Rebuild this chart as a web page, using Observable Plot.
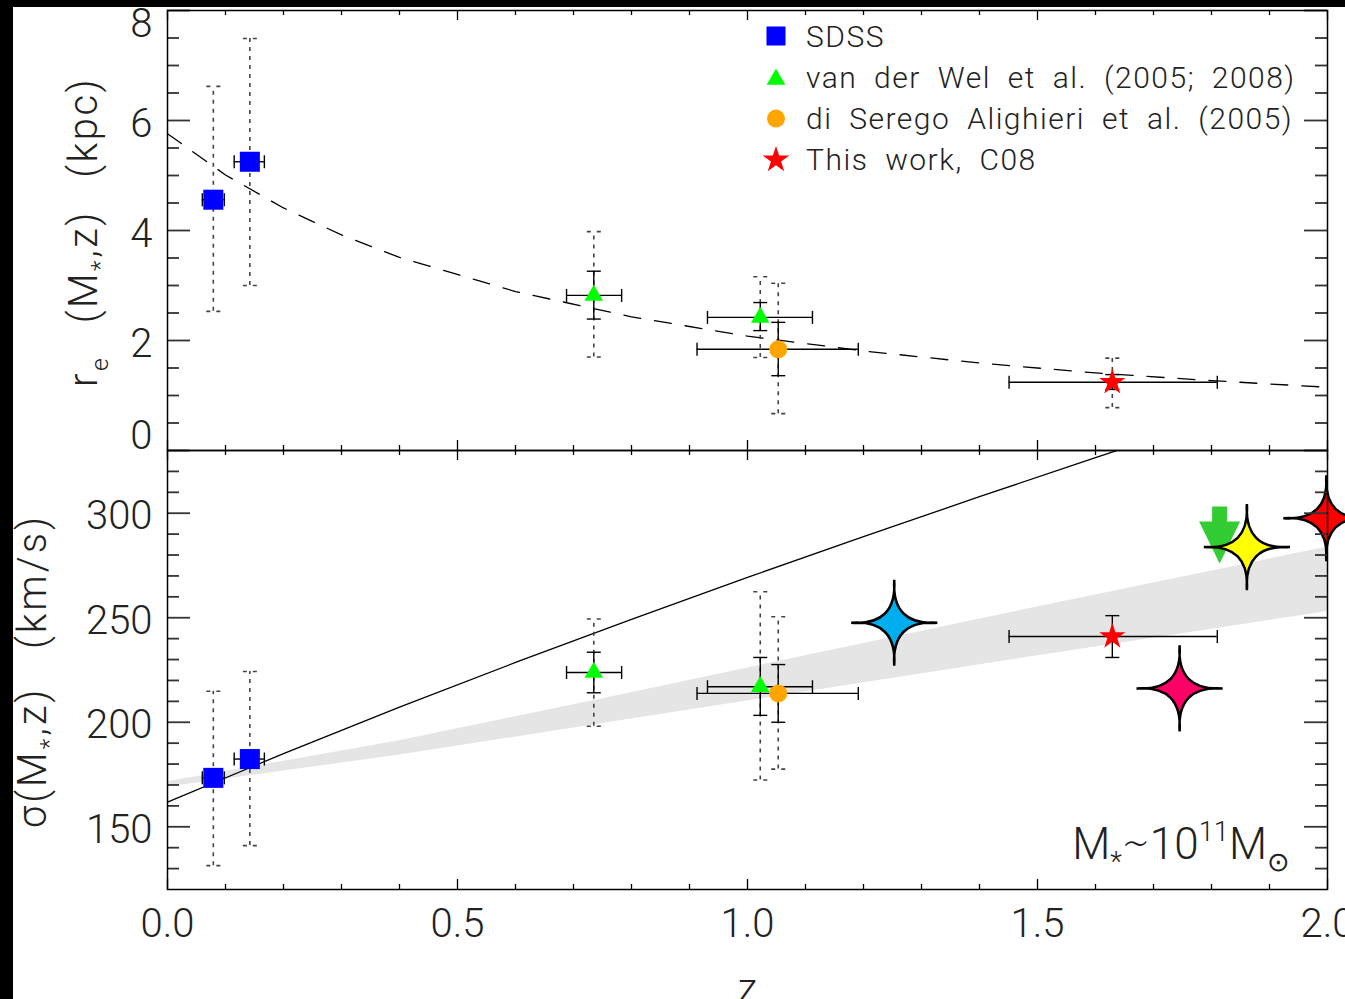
<!DOCTYPE html>
<html><head><meta charset="utf-8">
<script src="https://cdn.jsdelivr.net/npm/d3@7"></script>
<script src="https://cdn.jsdelivr.net/npm/@observablehq/plot@0.6"></script>
<style>
html,body{margin:0;padding:0;background:#000;width:1345px;height:999px;overflow:hidden;}
#paper{position:absolute;left:13px;top:7px;width:1332px;height:992px;background:#fff;}
#top,#bottom,#legend{position:absolute;left:0;}
#top{top:0px}
#bottom{top:440px}
#legend{top:0px}
svg{overflow:visible}
</style></head><body>
<div id="paper"></div>
<div id="top"></div><div id="bottom"></div><div id="legend"></div>
<script>
// ---------------- DATA ----------------
// SDSS
const sdssZ = [0.079, 0.142];
const sdssZLo = [0.060, 0.115];
const sdssZHi = [0.098, 0.167];
const sdssRe = [4.56, 5.25];
const sdssReDotLo = [2.53, 3.00];
const sdssReDotHi = [6.62, 7.49];
const sdssSig = [173.4, 182.4];
const sdssSigDotLo = [131.4, 141.0];
const sdssSigDotHi = [214.8, 224.3];
// van der Wel et al. (2005; 2008)
const vdwZ = [0.735, 1.022];
const vdwZLo = [0.688, 0.931];
const vdwZHi = [0.783, 1.112];
const vdwRe = [2.82, 2.42];
const vdwReLo = [2.39, 2.18];
const vdwReHi = [3.26, 2.69];
const vdwReDotLo = [1.70, 1.69];
const vdwReDotHi = [3.98, 3.16];
const vdwSig = [223.8, 217.0];
const vdwSigLo = [214.1, 203.3];
const vdwSigHi = [233.5, 231.0];
const vdwSigDotLo = [198.1, 172.4];
const vdwSigDotHi = [249.4, 262.4];
// di Serego Alighieri et al. (2005)
const dsaZ = [1.053];
const dsaZLo = [0.913];
const dsaZHi = [1.191];
const dsaRe = [1.84];
const dsaReLo = [1.36];
const dsaReHi = [2.33];
const dsaReDotLo = [0.67];
const dsaReDotHi = [3.04];
const dsaSig = [213.8];
const dsaSigLo = [200.0];
const dsaSigHi = [227.6];
const dsaSigDotLo = [177.6];
const dsaSigDotHi = [250.5];
// This work, C08
const c08Z = [1.629];
const c08ZLo = [1.451];
const c08ZHi = [1.810];
const c08Re = [1.24];
const c08ReLo = [1.11];
const c08ReHi = [1.38];
const c08ReDotLo = [0.78];
const c08ReDotHi = [1.68];
const c08Sig = [241.0];
const c08SigLo = [231.0];
const c08SigHi = [251.0];
// other high-z measurements (four-pointed stars) and an upper limit
const otherZ = [1.253, 1.861, 1.998, 1.745];
const otherSig = [247.6, 283.8, 297.6, 216.2];
const otherColor = ["#00AEEF", "#FFFF00", "#FF0000", "#FF0066"];
const limZ = [1.814];
const limSig = [289.6];
// size evolution model (dashed curve, top panel)
const reModelZ = [0, 0.1, 0.2, 0.3, 0.4, 0.6, 0.8, 1.0, 1.2, 1.4, 1.6, 1.8, 2.0];
const reModelV = [5.76, 5.01, 4.41, 3.92, 3.51, 2.89, 2.43, 2.08, 1.81, 1.59, 1.41, 1.27, 1.15];
// sigma prediction (solid curve, bottom panel)
const sigModelZ = [0, 0.2, 0.4, 0.6, 0.8, 1.0, 1.2, 1.4, 1.6, 1.8, 2.0];
const sigModelV = [161.8, 185.0, 207.2, 228.6, 249.2, 269.3, 288.8, 307.9, 326.6, 344.9, 362.8];
// grey band (bottom panel)
const bandZ = [0, 0.4, 0.75, 1.44, 2.0];
const bandLo = [169.0, 184.3, 199.4, 229.2, 253.0];
const bandHi = [171.5, 191.1, 211.3, 251.7, 283.8];
// ticks / labels
const xTickValues = [0, 0.5, 1.0, 1.5, 2.0];
const xTickLabels = ["0.0", "0.5", "1.0", "1.5", "2.0"];
const topYTicks = [0, 2, 4, 6, 8];
const topYLabels = ["0", "2", "4", "6", "8"];
const lowYTicks = [150, 200, 250, 300];
const lowYLabels = ["150", "200", "250", "300"];
const legendLabels = ["SDSS", "van der Wel et al. (2005; 2008)", "di Serego Alighieri et al. (2005)", "This work, C08"];
const legendColors = ["#0000FF", "#00FF00", "#FFA500", "#FF0000"];

// ---------------- LAYOUT ----------------
const W = 1345, ML = 167, MR = 18;
const FW = W - ML - MR;
const TOP_H = 460, TOP_MT = 10, TOP_MB = 10, TOP_FH = TOP_H - TOP_MT - TOP_MB;
const LOW_H = 559, LOW_MT = 10, LOW_MB = 110, LOW_FH = LOW_H - LOW_MT - LOW_MB;
const FONT = "Roboto, 'DejaVu Sans', sans-serif";

function rows(z, zlo, zhi, v, lo, hi, dlo, dhi) {
  return z.map((_, i) => ({z: z[i], zlo: zlo ? zlo[i] : null, zhi: zhi ? zhi[i] : null, v: v[i],
    lo: lo ? lo[i] : null, hi: hi ? hi[i] : null, dlo: dlo ? dlo[i] : null, dhi: dhi ? dhi[i] : null}));
}
const capH = {draw(c) { c.moveTo(-7, 0); c.lineTo(7, 0); }};
const capV = {draw(c) { c.moveTo(0, -6.5); c.lineTo(0, 6.5); }};
const star4 = {draw(c) {
  const R = 43, k = -3;
  c.moveTo(0, -R);
  c.quadraticCurveTo(k, -k, R, 0);
  c.quadraticCurveTo(k, k, 0, R);
  c.quadraticCurveTo(-k, k, -R, 0);
  c.quadraticCurveTo(-k, -k, 0, -R);
  c.closePath();
}};
const arrowDown = {draw(c) {
  c.moveTo(-7.5, -28.5); c.lineTo(7.5, -28.5); c.lineTo(7.5, -13.5); c.lineTo(20.5, -13.5);
  c.lineTo(0, 28.5); c.lineTo(-20.5, -13.5); c.lineTo(-7.5, -13.5); c.closePath();
}};

function errMarks(data) {
  const dotted = data.filter(d => d.dlo != null);
  const solid = data.filter(d => d.lo != null);
  const hor = data.filter(d => d.zlo != null);
  const dashStyle = {stroke: "#444", strokeWidth: 1.6, strokeDasharray: "4,5"};
  const capDash = {stroke: "#444", strokeWidth: 1.6, strokeDasharray: "4,6", fill: "none"};
  return [
    Plot.ruleX(dotted, {x: "z", y1: "dlo", y2: "dhi", ...dashStyle}),
    Plot.dot(dotted, {x: "z", y: "dlo", symbol: capH, ...capDash}),
    Plot.dot(dotted, {x: "z", y: "dhi", symbol: capH, ...capDash}),
    Plot.ruleX(solid, {x: "z", y1: "lo", y2: "hi", stroke: "black", strokeWidth: 1.4}),
    Plot.dot(solid, {x: "z", y: "lo", symbol: capH, stroke: "black", strokeWidth: 1.4, fill: "none"}),
    Plot.dot(solid, {x: "z", y: "hi", symbol: capH, stroke: "black", strokeWidth: 1.4, fill: "none"}),
    Plot.ruleY(hor, {y: "v", x1: "zlo", x2: "zhi", stroke: "black", strokeWidth: 1.4}),
    Plot.dot(hor, {x: "zlo", y: "v", symbol: capV, stroke: "black", strokeWidth: 1.4, fill: "none"}),
    Plot.dot(hor, {x: "zhi", y: "v", symbol: capV, stroke: "black", strokeWidth: 1.4, fill: "none"})
  ];
}

function tickMarks(yMajor, yMinor, FH) {
  const xMinor = d3.range(0, 2.0001, 0.1).map(v => +v.toFixed(2)).filter(v => !xTickValues.some(t => Math.abs(t - v) < 1e-6));
  const ts = {stroke: "black", strokeWidth: 1.3};
  const ys = {stroke: "#333", strokeWidth: 1.8};
  return [
    Plot.ruleX(xTickValues, {x: d => d, insetTop: FH - 10, ...ts}),
    Plot.ruleX(xMinor, {x: d => d, insetTop: FH - 5, ...ts}),
    Plot.ruleX(xTickValues, {x: d => d, insetBottom: FH - 10, ...ts}),
    Plot.ruleX(xMinor, {x: d => d, insetBottom: FH - 5, ...ts}),
    Plot.ruleY(yMajor, {y: d => d, insetRight: FW - 23, ...ys}),
    Plot.ruleY(yMinor, {y: d => d, insetRight: FW - 12, ...ys}),
    Plot.ruleY(yMajor, {y: d => d, insetLeft: FW - 23, ...ys}),
    Plot.ruleY(yMinor, {y: d => d, insetLeft: FW - 12, ...ys}),
    Plot.frame({stroke: "black", strokeWidth: 1.5})
  ];
}

const sdss = rows(sdssZ, sdssZLo, sdssZHi, sdssRe, null, null, sdssReDotLo, sdssReDotHi);
const vdw = rows(vdwZ, vdwZLo, vdwZHi, vdwRe, vdwReLo, vdwReHi, vdwReDotLo, vdwReDotHi);
const dsa = rows(dsaZ, dsaZLo, dsaZHi, dsaRe, dsaReLo, dsaReHi, dsaReDotLo, dsaReDotHi);
const c08 = rows(c08Z, c08ZLo, c08ZHi, c08Re, c08ReLo, c08ReHi, c08ReDotLo, c08ReDotHi);

const sdssL = rows(sdssZ, sdssZLo, sdssZHi, sdssSig, null, null, sdssSigDotLo, sdssSigDotHi);
const vdwL = rows(vdwZ, vdwZLo, vdwZHi, vdwSig, vdwSigLo, vdwSigHi, vdwSigDotLo, vdwSigDotHi);
const dsaL = rows(dsaZ, dsaZLo, dsaZHi, dsaSig, dsaSigLo, dsaSigHi, dsaSigDotLo, dsaSigDotHi);
const c08L = rows(c08Z, c08ZLo, c08ZHi, c08Sig, c08SigLo, c08SigHi, null, null);

const reModel = reModelZ.map((z, i) => ({z, v: reModelV[i]}));
const sigModel = sigModelZ.map((z, i) => ({z, v: sigModelV[i]}));
const band = bandZ.map((z, i) => ({z, lo: bandLo[i], hi: bandHi[i]}));
const others = otherZ.map((z, i) => ({z, v: otherSig[i], c: otherColor[i]}));
const limits = limZ.map((z, i) => ({z, v: limSig[i]}));

const labelStyle = {fontSize: 40, fontWeight: 300, fontFamily: FONT, fill: "#222"};

// ---------------- TOP PANEL ----------------
const topMid = topYTicks.map((t, i) => ({t, s: topYLabels[i]})).filter(d => d.t !== 0 && d.t !== 8);
const topLo = topYTicks.map((t, i) => ({t, s: topYLabels[i]})).filter(d => d.t === 0);
const topHi = topYTicks.map((t, i) => ({t, s: topYLabels[i]})).filter(d => d.t === 8);
const topChart = Plot.plot({
  width: W, height: TOP_H, marginLeft: ML, marginRight: MR, marginTop: TOP_MT, marginBottom: TOP_MB,
  style: {background: "transparent", overflow: "visible", fontFamily: FONT},
  x: {domain: [0, 2], axis: null},
  y: {domain: [0, 8], axis: null},
  marks: [
    Plot.line(reModel, {x: "z", y: "v", stroke: "black", strokeWidth: 1.3, strokeDasharray: "17,14"}),
    ...errMarks(sdss), ...errMarks(vdw), ...errMarks(dsa), ...errMarks(c08),
    Plot.dot(sdss, {x: "z", y: "v", symbol: "square", r: 11.3, fill: "#0000FF"}),
    Plot.dot(vdw, {x: "z", y: "v", symbol: "triangle", r: 6.9, fill: "#00FF00"}),
    Plot.dot(dsa, {x: "z", y: "v", symbol: "circle", r: 9, fill: "#FFA500"}),
    Plot.dot(c08, {x: "z", y: "v", symbol: "star", r: 8.2, fill: "#FF0000"}),
    ...tickMarks(topYTicks, d3.range(0.5, 8, 0.5).filter(v => v % 2 !== 0), TOP_FH),
    Plot.text(topMid, {y: "t", text: "s", frameAnchor: "left", textAnchor: "end", dx: -15, dy: 4, ...labelStyle}),
    Plot.text(topLo, {y: "t", text: "s", frameAnchor: "left", textAnchor: "end", dx: -15, dy: -14, ...labelStyle}),
    Plot.text(topHi, {y: "t", text: "s", frameAnchor: "left", textAnchor: "end", dx: -15, dy: 13.5, ...labelStyle})
  ]
});
document.getElementById("top").appendChild(topChart);

// ---------------- BOTTOM PANEL ----------------
const lowLab = lowYTicks.map((t, i) => ({t, s: lowYLabels[i]}));
const xLab = xTickValues.map((t, i) => ({t, s: xTickLabels[i]}));
const lowChart = Plot.plot({
  width: W, height: LOW_H, marginLeft: ML, marginRight: MR, marginTop: LOW_MT, marginBottom: LOW_MB,
  style: {background: "transparent", overflow: "visible", fontFamily: FONT},
  x: {domain: [0, 2], axis: null},
  y: {domain: [120, 330], axis: null},
  marks: [
    Plot.areaY(band, {x: "z", y1: "lo", y2: "hi", fill: "#E5E5E5", curve: "linear"}),
    Plot.line(sigModel, {x: "z", y: "v", stroke: "black", strokeWidth: 1.3, clip: true}),
    ...errMarks(sdssL), ...errMarks(vdwL), ...errMarks(dsaL), ...errMarks(c08L),
    Plot.dot(sdssL, {x: "z", y: "v", symbol: "square", r: 11.3, fill: "#0000FF"}),
    Plot.dot(vdwL, {x: "z", y: "v", symbol: "triangle", r: 6.9, fill: "#00FF00"}),
    Plot.dot(dsaL, {x: "z", y: "v", symbol: "circle", r: 9, fill: "#FFA500"}),
    Plot.dot(c08L, {x: "z", y: "v", symbol: "star", r: 8.2, fill: "#FF0000"}),
    Plot.dot(limits, {x: "z", y: "v", symbol: arrowDown, r: 10, fill: "#33CC33", stroke: "none"}),
    Plot.dot(others, {x: "z", y: "v", symbol: star4, r: 10, fill: "c", stroke: "black", strokeWidth: 2.5}),
    ...tickMarks(lowYTicks, d3.range(130, 330, 10).filter(v => v % 50 !== 0), LOW_FH),
    Plot.text(lowLab, {y: "t", text: "s", frameAnchor: "left", textAnchor: "end", dx: -15, dy: 3, ...labelStyle}),
    Plot.text(xLab, {x: "t", text: "s", frameAnchor: "bottom", dy: 47, ...labelStyle}),
    Plot.text(["z"], {frameAnchor: "bottom", text: d => d, dy: 112, ...labelStyle})
  ]
});
document.getElementById("bottom").appendChild(lowChart);

// ---------------- TITLES / ANNOTATIONS (with sub/superscripts) ----------------
function richText(svg, x, y, rotate, anchor, size, parts, ls, ws) {
  const t = d3.select(svg).append("text")
    .attr("transform", `translate(${x},${y})` + (rotate ? ` rotate(${rotate})` : ""))
    .attr("text-anchor", anchor)
    .attr("font-family", FONT).attr("font-weight", 300).attr("font-size", size).attr("fill", "#222")
    .attr("letter-spacing", ls || 0).attr("word-spacing", ws || 0)
    .style("white-space", "pre");
  let shift = 0;
  for (const [s, kind] of parts) {
    const target = kind === "sub" ? size * 0.28 : kind === "sup" ? -size * 0.42 : 0;
    t.append("tspan").attr("dy", target - shift).attr("font-size", kind ? size * 0.62 : size).text(s);
    shift = target;
  }
  return t;
}
richText(topChart, 97, 232, -90, "middle", 40,
  [["r"], ["e", "sub"], ["  (M"], ["*", "sub"], [",z)  (kpc)"]], 2.5, 4);
richText(lowChart, 46, 231, -90, "middle", 40,
  [["σ(M"], ["*", "sub"], [",z)  (km/s)"]], 3, 6);
richText(lowChart, 1290, 419, 0, "end", 44,
  [["M"], ["*", "sub"], ["∼10"], ["11", "sup"], ["M"], ["⊙", "sub"]], 0, 0);

// ---------------- LEGEND ----------------
const leg = d3.select("#legend").append("svg").attr("width", W).attr("height", 200).style("overflow", "visible");
const legSymbols = [d3.symbol(d3.symbolSquare, 19 * 19), d3.symbol(d3.symbolTriangle, 150),
  d3.symbol(d3.symbolCircle, Math.PI * 81), d3.symbol(d3.symbolStar, 220)];
legendLabels.forEach((lab, i) => {
  const cy = 36 + i * 41.3;
  leg.append("path").attr("d", legSymbols[i]()).attr("fill", legendColors[i]).attr("transform", `translate(776,${cy + (i === 1 ? 2 : 0)})`);
  leg.append("text").attr("x", 806).attr("y", cy + 10.5).attr("font-family", FONT).attr("font-weight", 300)
    .attr("font-size", 30).attr("letter-spacing", 1.5).attr("word-spacing", 8).attr("fill", "#222").text(lab);
});
</script></body></html>
